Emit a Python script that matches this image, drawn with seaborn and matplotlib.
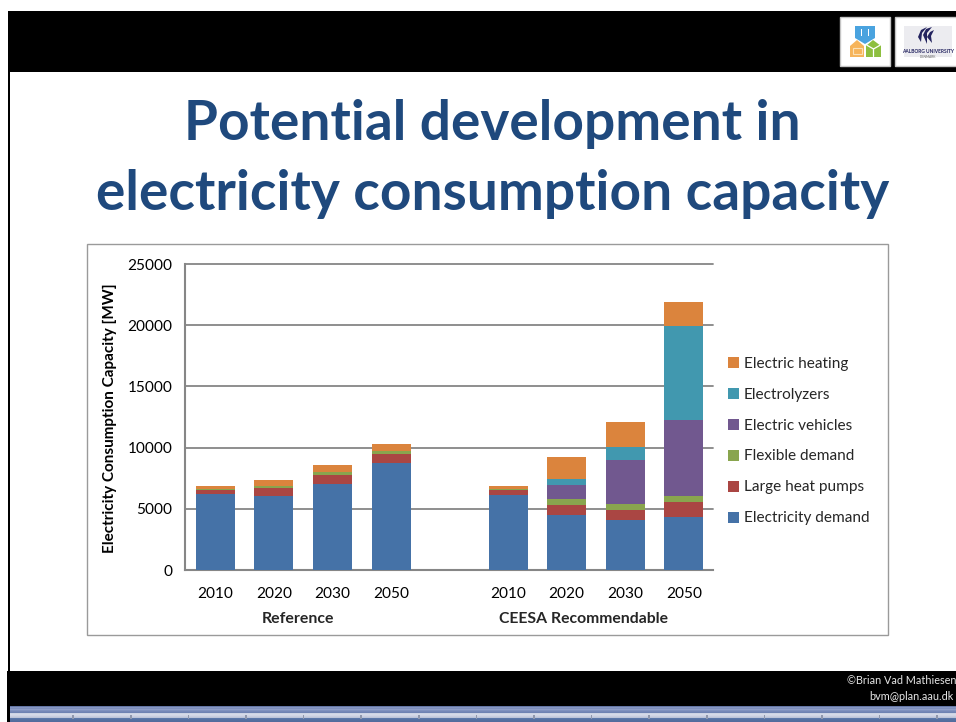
import numpy as np
import pandas as pd
import matplotlib
matplotlib.use("Agg")
import matplotlib.pyplot as plt
from matplotlib.patches import Rectangle, Polygon, Circle
import seaborn as sns

# ---------- data ----------
slots = ["R2010", "R2020", "R2030", "R2050", "gap", "C2010", "C2020", "C2030", "C2050"]
tick_labels = ["2010", "2020", "2030", "2050", "", "2010", "2020", "2030", "2050"]
electricity_demand = [6170, 6065, 7050, 8740, 0, 6165, 4470, 4090, 4310]
large_heat_pumps = [355, 625, 740, 740, 0, 355, 820, 790, 1230]
flexible_demand = [110, 195, 240, 245, 0, 110, 550, 550, 540]
electric_vehicles = [0, 0, 0, 0, 0, 0, 1140, 3570, 6200]
electrolyzers = [0, 0, 0, 0, 0, 0, 440, 1040, 7690]
electric_heating = [225, 465, 570, 605, 0, 220, 1830, 2020, 1930]
series_names = ["Electricity demand", "Large heat pumps", "Flexible demand",
                "Electric vehicles", "Electrolyzers", "Electric heating"]
series_values = [electricity_demand, large_heat_pumps, flexible_demand,
                 electric_vehicles, electrolyzers, electric_heating]
colors = ["#4572A7", "#AA4643", "#89A54E", "#71588F", "#4198AF", "#DB843D"]
title_lines = ["Potential development in", "electricity consumption capacity"]

W, H = 956, 722
sns.set_theme(style="white")
plt.rcParams["font.family"] = ["Lato", "DejaVu Sans"]
fig = plt.figure(figsize=(W / 100, H / 100), dpi=100, facecolor="white")

# ---------- slide decoration, in pixel coordinates ----------
bg = fig.add_axes([0, 0, 1, 1])
bg.set_xlim(0, W); bg.set_ylim(H, 0); bg.axis("off")
def rect(x0, y0, x1, y1, **kw):
    bg.add_patch(Rectangle((x0, y0), x1 - x0, y1 - y0, lw=kw.pop("lw", 0), **kw))
rect(8, 11, W, 72, fc="black")
rect(8, 72, 10, 671, fc="black")
rect(7, 671, W, 706, fc="black")
rect(7, 706, 10, 722, fc="black")
strip = np.array([[100, 118, 165], [135, 152, 196], [126, 144, 190], [145, 160, 202],
                  [128, 146, 192], [118, 136, 184], [110, 130, 178], [205, 211, 228],
                  [214, 219, 233], [210, 214, 230], [200, 206, 224], [190, 197, 218],
                  [92, 120, 170], [86, 113, 163], [84, 112, 160], [82, 108, 158]]) / 255
bg.imshow(strip[:, None, :], extent=(10, W, 722, 706), aspect="auto", interpolation="bilinear", zorder=1)
bg.set_xlim(0, W); bg.set_ylim(H, 0)
for x in np.arange(72.5, W, 57.6):
    rect(x, 715, x + 1.5, 718.5, fc="#8f97ad", zorder=2)

# logos
rect(840, 17, 890, 66, fc="white", ec="#c4c4c4", lw=1)
rect(895, 17, W + 2, 66, fc="white", ec="#c4c4c4", lw=1)
bg.add_patch(Polygon([(855, 26), (875, 26), (875, 38), (865, 44), (855, 38)], fc="#4AA3DF", lw=0))
bg.add_patch(Polygon([(850, 46), (857, 40), (864, 46), (864, 57), (850, 57)], fc="#F6B45A", lw=0))
bg.add_patch(Polygon([(866, 46), (873, 40), (881, 46), (881, 57), (866, 57)], fc="#8DBF3F", lw=0))
rect(861, 29, 862.5, 36, fc="white"); rect(868, 29, 869.5, 36, fc="white")
rect(853, 48, 862, 54, fc="none", ec="#FBE0B5", lw=0.8)
for a in (90, 210, 330):
    bg.plot([873.5, 873.5 + 7 * np.cos(np.radians(a))], [49, 49 + 7 * np.sin(np.radians(a))],
            color="white", lw=0.9, zorder=3)
rect(904, 26, 952, 57, fc="#ECECF0")
for pts in ([(918, 37), (921, 30), (927, 27), (922, 33), (921, 42)],
            [(923, 35), (926, 29), (932, 27), (927, 33), (927, 44)],
            [(927, 37), (930, 32), (934, 30), (931, 36), (932, 43)]):
    bg.add_patch(Polygon(pts, fc="#23235F", lw=0))
bg.text(928, 51.5, "AALBORG UNIVERSITY", fontsize=3.5, fontweight="bold", color="#23235F", ha="center", va="center")
bg.text(928, 56.5, "DENMARK", fontsize=2.4, color="#666666", ha="center", va="center")

# title
for line, yc in zip(title_lines, [124, 194]):
    bg.text(492.5, yc, line, fontsize=39.6, fontweight="bold", color="#1F497D", ha="center", va="center")

# footer
bg.text(847, 681, "©Brian Vad Mathiesen", fontsize=7.8, color="#e6e6e6", va="center")
bg.text(869, 696, "bvm@plan.aau.dk", fontsize=7.8, color="#e6e6e6", va="center")

# chart frame
rect(87, 244, 888, 635, fc="white", ec="#9a9a9a", lw=1, zorder=2)

# ---------- chart ----------
ax = fig.add_axes([185 / W, 1 - 570 / H, (713 - 185) / W, (570 - 264) / H], facecolor="none")
df = pd.DataFrame({"slot": slots, **dict(zip(series_names, series_values))})
bottom = np.zeros(len(slots))
for name, color in zip(series_names, colors):
    sns.barplot(data=df, x="slot", y=name, order=slots, color=color, saturation=1,
                width=0.667, bottom=bottom, ax=ax, label=name, linewidth=0, zorder=3)
    bottom = bottom + df[name].to_numpy()

ax.set_xlim(-0.52, 8.5)
ax.set_ylim(0, 25000)
ax.set_yticks(range(0, 25001, 5000))
ax.set_xticks(range(len(slots)))
ax.set_xticklabels(tick_labels)
ax.set_xlabel(""); ax.set_ylabel("")
ax.grid(axis="y", color="#868686", lw=1.3, zorder=0)
for gl in ax.get_ygridlines():
    gl.set_clip_on(False)
ax.set_axisbelow(True)
for s in ["top", "right"]:
    ax.spines[s].set_visible(False)
for s in ["left", "bottom"]:
    ax.spines[s].set_color("#868686")
    ax.spines[s].set_linewidth(1.5)
ax.tick_params(axis="y", length=5, width=1.2, color="#868686", labelsize=11.1, labelcolor="black", pad=4)
ax.tick_params(axis="x", length=0, labelsize=11.1, labelcolor="black", pad=12)
ax.yaxis.set_major_formatter(matplotlib.ticker.FuncFormatter(lambda v, _: f"{int(v)}"))

bg.text(109.5, 418, "Electricity Consumption Capacity [MW]", rotation=90, fontsize=11,
        fontweight="bold", ha="center", va="center", color="black", zorder=5)
bg.text(298, 619, "Reference", fontsize=11.4, fontweight="bold", ha="center", va="center", zorder=5)
bg.text(583.5, 619, "CEESA Recommendable", fontsize=11.3, fontweight="bold", ha="center", va="center", zorder=5)

handles, labels = ax.get_legend_handles_labels()
leg = ax.legend(handles[::-1], labels[::-1], loc="center left", frameon=False,
                bbox_to_anchor=((727.5 - 185) / (713 - 185), (570 - 441) / (570 - 264)),
                fontsize=11.1, handlelength=0.72, handleheight=0.72, handletextpad=0.35,
                labelspacing=1.1, borderpad=0, borderaxespad=0)

fig.savefig("out.png", dpi=100, facecolor="white")
